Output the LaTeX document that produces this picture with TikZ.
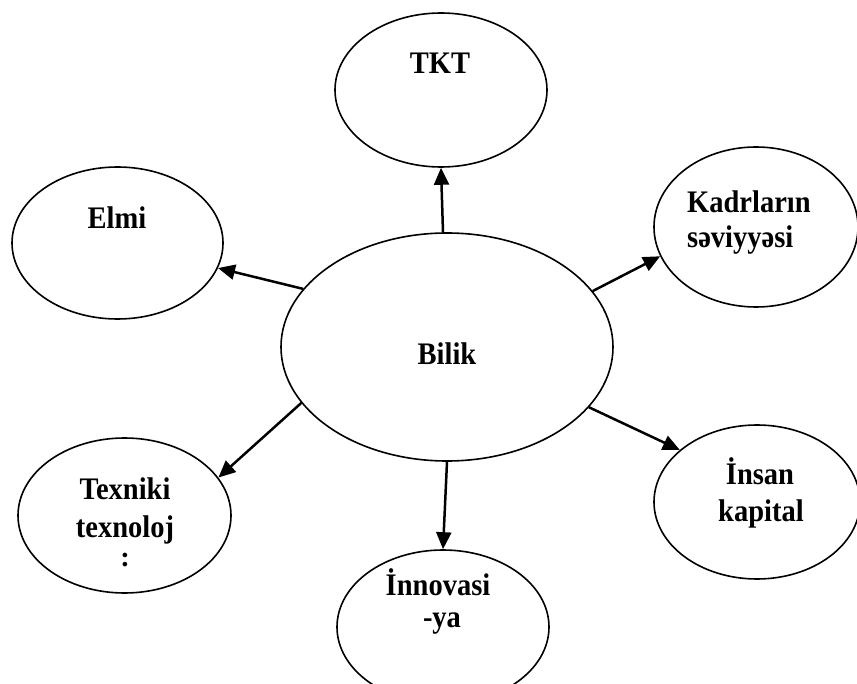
\documentclass[tikz,border=0pt]{standalone}
\usepackage{fontspec}
\setmainfont{Liberation Serif}
\usetikzlibrary{shapes.geometric,arrows.meta}
\newcommand{\stretchtxt}[1]{\scalebox{1}[1.1]{#1}}
\begin{document}
\begin{tikzpicture}[x=1pt,y=-1pt,
  oval/.style={ellipse,draw,line width=1.6pt,inner sep=0pt},
  lbl/.style={font=\fontsize{28.5}{36.5}\selectfont\bfseries,inner sep=0pt,anchor=base},
  arr/.style={line width=2.5pt,-{Triangle[length=17pt,width=15pt]}}]
\useasboundingbox (0,0) rectangle (857,684);
\clip (0,0) rectangle (857,684);
\node[oval,minimum width=332pt,minimum height=228pt] (bilik) at (447,347) {};
\node[oval,minimum width=212pt,minimum height=154pt] (tkt) at (441,90) {};
\node[oval,minimum width=211pt,minimum height=152pt] (elmi) at (117.5,243) {};
\node[oval,minimum width=204pt,minimum height=160pt] (kadr) at (756,227) {};
\node[oval,minimum width=213pt,minimum height=155pt] (texn) at (124.5,515.5) {};
\node[oval,minimum width=206pt,minimum height=154pt] (insan) at (757,502) {};
\node[oval,minimum width=212pt,minimum height=154pt] (innov) at (443,627) {};
% texts
\node[lbl] (tBilik) at (447,365) {\stretchtxt{Bilik}};
\node[lbl] (tTKT) at (440,74) {\stretchtxt{TKT}};
\node[lbl] (tElmi) at (117,229) {\stretchtxt{Elmi}};
\node[lbl,anchor=base west] (tKadr1) at (687,213) {\stretchtxt{Kadrların}};
\node[lbl,anchor=base west] (tKadr2) at (687,248) {\stretchtxt{səviyyəsi}};
\node[lbl] (tIns1) at (760,485) {\stretchtxt{İnsan}};
\node[lbl] (tIns2) at (761,521) {\stretchtxt{kapital}};
\node[lbl] (tTex1) at (125,500) {\stretchtxt{Texniki}};
\node[lbl] (tTex2) at (125,537) {\stretchtxt{texnoloj}};
\node[lbl] (tTex3) at (125,566) {:};
\node[lbl] (tInn1) at (438,595) {\stretchtxt{İnnovasi}};
\node[lbl] (tInn2) at (442,627) {\stretchtxt{-ya}};
% arrows
\draw[arr] (bilik.92.5) -- (tkt.270);
\draw[arr] (bilik.158.9) -- (elmi.-14.1);
\draw[arr] (bilik.21.3) -- (kadr.197.7);
\draw[arr] (bilik.201.9) -- (texn.22.5);
\draw[arr] (bilik.337.9) -- (insan.146.5);
\draw[arr] (bilik.270) -- (innov.90);
\end{tikzpicture}
\end{document}
